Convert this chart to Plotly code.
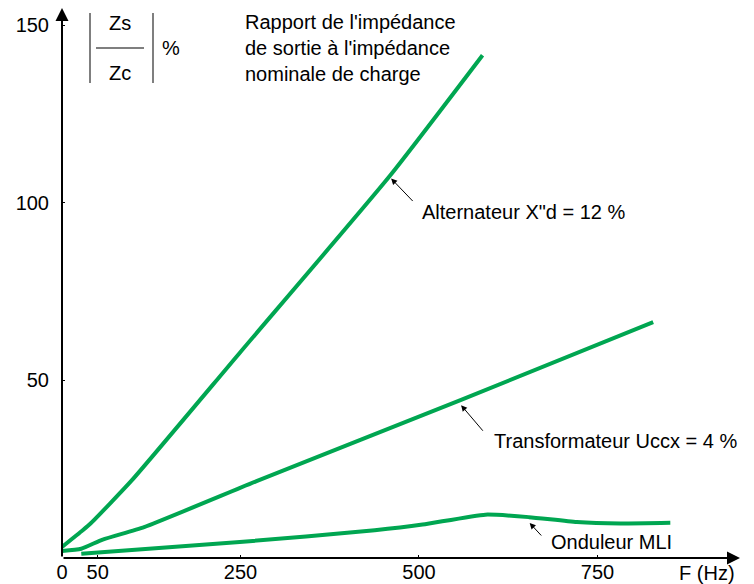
import plotly.graph_objects as go

# Données (F en Hz, |Zs/Zc| en %)
alternateur_f = [0, 29, 40, 98, 250, 459, 589]
alternateur_v = [3.1, 7.8, 9.7, 21.9, 58.0, 107.5, 141.5]

transfo_f = [0, 27, 57, 115, 276, 559, 828]
transfo_v = [2.0, 2.6, 5.2, 8.7, 21.9, 44.5, 66.4]

onduleur_f = [27, 249, 438, 505, 593, 654, 721, 782, 852]
onduleur_v = [1.2, 4.5, 7.8, 9.4, 12.2, 11.5, 10.1, 9.7, 9.9]

x_ticks = [0, 50, 250, 500, 750]
y_ticks = [50, 100, 150]

# la page a une marge de 8 px : la figure est décalée d'autant
OFF = 8
W, H = 754 - OFF, 584 - OFF
ML, MR, MT, MB = 54, 14, 0, 26
XMAX, YMAX = 949.6, 154.8

green = "#00A651"
font = "Liberation Sans, Arial, sans-serif"


def px(x, y):
    # position en pixels de la page -> coordonnées papier
    return (x - OFF - ML) / (W - ML - MR), (H - MB - (y - OFF)) / (H - MT - MB)


fig = go.Figure()
for f, v in [(alternateur_f, alternateur_v), (transfo_f, transfo_v), (onduleur_f, onduleur_v)]:
    fig.add_trace(go.Scatter(x=f, y=v, mode="lines", line=dict(color=green, width=4, shape="spline", smoothing=0.5),
                             showlegend=False, hoverinfo="skip"))

ann = []
# axes avec flèches
ann.append(dict(x=XMAX, y=0, ax=0, ay=0, xref="x", yref="y", axref="x", ayref="y", text="", showarrow=True,
                arrowhead=2, arrowsize=1.3, arrowwidth=2, arrowcolor="black"))
ann.append(dict(x=0, y=YMAX, ax=0, ay=0, xref="x", yref="y", axref="x", ayref="y", text="", showarrow=True,
                arrowhead=2, arrowsize=1.3, arrowwidth=2, arrowcolor="black"))

# étiquettes des courbes
labels = [
    ("Alternateur X\"d = 12 %", 461, 106.8, 23, 24, 420, 212),
    ("Transformateur Uccx = 4 %", 559, 43.0, 23, 27, 492, 441),
    ("Onduleur MLI", 655, 9.85, 13, 14, 549, 542),
]
for txt, x, y, ax, ay, tx, ty in labels:
    ann.append(dict(x=x, y=y, ax=ax, ay=ay, xref="x", yref="y", text="", showarrow=True,
                    arrowhead=2, arrowsize=1.2, arrowwidth=1, arrowcolor="black"))
    xp, yp = px(tx, ty)
    ann.append(dict(x=xp, y=yp, xref="paper", yref="paper", text=txt, showarrow=False,
                    xanchor="left", yanchor="middle", font=dict(size=20, color="black")))

# titre de l'axe x
xp, yp = px(707, 573)
ann.append(dict(x=xp, y=yp, xref="paper", yref="paper", text="F (Hz)", showarrow=False,
                xanchor="center", yanchor="middle", font=dict(size=20, color="black")))

# |Zs / Zc| %
for txt, x, y in [("Zs", 120, 23), ("Zc", 120, 73), ("%", 171, 48)]:
    xp, yp = px(x, y)
    ann.append(dict(x=xp, y=yp, xref="paper", yref="paper", text=txt, showarrow=False,
                    xanchor="center", yanchor="middle", font=dict(size=20, color="black")))

xp, yp = px(243, 48)
ann.append(dict(x=xp, y=yp, xref="paper", yref="paper",
                text="Rapport de l'impédance<br>de sortie à l'impédance<br>nominale de charge",
                showarrow=False, xanchor="left", yanchor="middle", align="left",
                font=dict(size=20, color="black")))

shapes = []
for x0, y0, x1, y1, c, w in [(96, 48, 144, 48, "black", 1.2), (90, 13, 90, 83, "#555555", 1.5),
                             (153, 13, 153, 83, "#555555", 1.5)]:
    a0, b0 = px(x0, y0)
    a1, b1 = px(x1, y1)
    shapes.append(dict(type="line", xref="paper", yref="paper", x0=a0, y0=b0, x1=a1, y1=b1,
                       line=dict(color=c, width=w)))

fig.update_layout(
    width=W, height=H,
    margin=dict(l=ML, r=MR, t=MT, b=MB),
    paper_bgcolor="white", plot_bgcolor="white",
    font=dict(family=font, size=20, color="black"),
    annotations=ann, shapes=shapes,
    xaxis=dict(range=[0, XMAX], showgrid=False, zeroline=False, showline=False,
               tickvals=x_ticks, ticktext=[str(t) for t in x_ticks],
               ticks="inside", ticklen=3, tickcolor="black", automargin=False, fixedrange=True),
    yaxis=dict(range=[0, YMAX], showgrid=False, zeroline=False, showline=False,
               tickvals=y_ticks, ticktext=[str(t) for t in y_ticks],
               ticks="inside", ticklen=3, tickcolor="black", ticklabelstandoff=12,
               automargin=False, fixedrange=True),
)

fig.write_html("out.html")
